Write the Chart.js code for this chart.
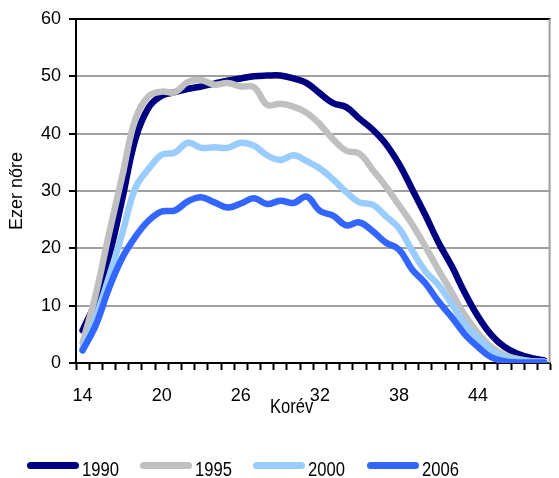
<!DOCTYPE html>
<html>
<head>
<meta charset="utf-8">
<script src="https://cdn.jsdelivr.net/npm/chart.js@4"></script>
<style>
  html, body { margin: 0; padding: 0; background: #fff; }
  #wrap { position: relative; width: 559px; height: 478px; }
  #chart { position: absolute; left: 0; top: 0; }
  .txt {
    position: absolute;
    font-family: "Liberation Sans", Arial, sans-serif;
    font-size: 20px;
    line-height: 20px;
    color: #000;
    white-space: nowrap;
    transform: scaleX(0.83);
    transform-origin: left top;
  }
  .swatch { position: absolute; width: 52px; height: 7px; border-radius: 4px; top: 462px; }
</style>
</head>
<body>
<div id="wrap">
  <canvas id="chart" width="559" height="478"></canvas>
  <div class="txt" style="left:270px; top:396px;">Korév</div>
  <div id="legend"></div>
</div>
<script>
const ages = [14, 15, 16, 17, 18, 19, 20, 21, 22, 23, 24, 25, 26, 27, 28, 29, 30, 31,
  32, 33, 34, 35, 36, 37, 38, 39, 40, 41, 42, 43, 44, 45, 46, 47, 48, 49];
const shownAges = [14, 20, 26, 32, 38, 44];
const yTicks = [0, 10, 20, 30, 40, 50, 60];

const y1990 = [5.7, 10.8, 18.5, 28.5, 39.0, 44.5, 46.6, 47.2, 47.8, 48.2, 48.7, 49.2, 49.6, 50.0, 50.1, 50.1, 49.6, 48.8,
  47.0, 45.3, 44.6, 42.6, 40.7, 38.2, 34.7, 30.3, 25.8, 21.0, 16.9, 12.2, 8.1, 4.9, 2.8, 1.6, 0.9, 0.5];
const y1995 = [3.5, 12.0, 22.5, 32.5, 42.5, 46.5, 47.3, 47.2, 49.0, 49.3, 48.5, 48.8, 48.2, 48.1, 45.0, 45.2, 44.7, 43.6,
  41.6, 39.0, 37.0, 36.5, 33.7, 30.8, 27.5, 24.2, 20.3, 16.2, 12.3, 8.3, 5.2, 2.8, 1.4, 0.7, 0.3, 0.2];
const y2000 = [2.5, 8.0, 15.0, 22.5, 30.5, 33.8, 36.3, 36.7, 38.4, 37.5, 37.6, 37.5, 38.4, 37.9, 36.2, 35.4, 36.2, 35.2,
  33.9, 32.0, 29.8, 28.0, 27.6, 25.6, 23.5, 19.6, 16.0, 13.6, 10.3, 6.8, 4.3, 2.3, 1.1, 0.5, 0.3, 0.2];
const y2006 = [2.2, 6.6, 13.0, 18.3, 22.0, 24.8, 26.4, 26.6, 28.2, 28.9, 28.0, 27.1, 27.8, 28.7, 27.7, 28.3, 27.9, 29.0,
  26.5, 25.7, 24.0, 24.5, 23.0, 21.0, 19.8, 16.3, 13.9, 10.7, 8.0, 5.0, 2.8, 1.0, 0.3, 0.1, 0.1, 0.1];

const seriesNames = ["1990", "1995", "2000", "2006"];
const seriesValues = [y1990, y1995, y2000, y2006];
const seriesColors = ["#000080", "#c0c0c0", "#99ccff", "#3366ff"];

const plainFont = '"Liberation Sans", Arial, sans-serif';

// right edge of the plot is a thin grey line
const frame = {
  id: "frame",
  beforeDatasetsDraw(chart) {
    const { ctx, chartArea } = chart;
    ctx.save();
    ctx.strokeStyle = "#a0a0a0";
    ctx.lineWidth = 2;
    ctx.beginPath();
    ctx.moveTo(chartArea.right - 1, chartArea.top);
    ctx.lineTo(chartArea.right - 1, chartArea.bottom);
    ctx.stroke();
    ctx.restore();
  }
};

new Chart(document.getElementById("chart"), {
  type: "line",
  data: {
    labels: ages,
    datasets: seriesNames.map((name, i) => ({
      label: name,
      data: seriesValues[i],
      borderColor: seriesColors[i],
      backgroundColor: seriesColors[i],
      borderWidth: 6.5,
      pointRadius: 0,
      tension: 0.4,
      borderCapStyle: "round",
      borderJoinStyle: "round",
      order: seriesNames.length - i
    }))
  },
  options: {
    responsive: false,
    animation: false,
    layout: { padding: { top: 17, right: 1, left: 0, bottom: 0 } },
    plugins: { legend: { display: false }, tooltip: { enabled: false } },
    scales: {
      x: {
        type: "category",
        offset: true,
        afterFit: (scale) => { scale.height = 115; },
        grid: {
          offset: true,
          drawOnChartArea: false,
          tickLength: 7,
          tickColor: "#000",
          tickWidth: 2
        },
        border: { color: "#000", width: 2 },
        ticks: {
          autoSkip: false,
          maxRotation: 0,
          padding: 15,
          color: "#000",
          font: { family: plainFont, size: 18 },
          callback: function (value) {
            const age = this.getLabelForValue(value);
            return shownAges.includes(age) ? String(age) : "";
          }
        }
      },
      y: {
        min: yTicks[0],
        max: yTicks[yTicks.length - 1],
        afterFit: (scale) => { scale.width = 76; },
        afterBuildTicks: (scale) => { scale.ticks = yTicks.map(v => ({ value: v })); },
        grid: {
          color: (c) => (c.tick && (c.tick.value === 60 || c.tick.value === 0)) ? "#000" : "#a0a0a0",
          lineWidth: 2,
          tickLength: 7,
          tickColor: "#000",
          tickWidth: 2
        },
        border: { color: "#000", width: 2 },
        ticks: {
          padding: 8,
          color: "#000",
          font: { family: plainFont, size: 18 }
        },
        title: {
          display: true,
          text: "Ezer nőre",
          color: "#000",
          padding: { top: 6, bottom: 0 },
          font: { family: plainFont, size: 18 }
        }
      }
    }
  },
  plugins: [frame]
});

// legend under the chart
const legend = document.getElementById("legend");
const swatchLeft = [27, 140, 253, 367];
seriesNames.forEach((name, i) => {
  const sw = document.createElement("div");
  sw.className = "swatch";
  sw.style.left = swatchLeft[i] + "px";
  sw.style.background = seriesColors[i];
  legend.appendChild(sw);
  const t = document.createElement("div");
  t.className = "txt";
  t.style.left = (swatchLeft[i] + 55) + "px";
  t.style.top = "459px";
  t.textContent = name;
  legend.appendChild(t);
});
</script>
</body>
</html>
